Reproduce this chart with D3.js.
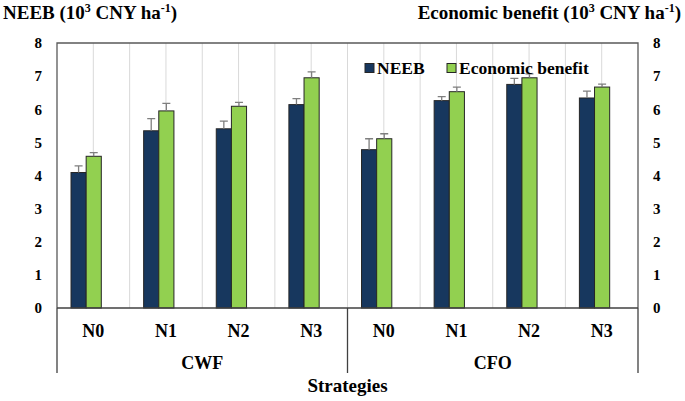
<!DOCTYPE html>
<html><head><meta charset="utf-8">
<script src="https://cdn.jsdelivr.net/npm/d3@7"></script>
<style>body{margin:0;background:#fff}svg{display:block}text{font-family:"Liberation Serif","Times New Roman",Tinos,"DejaVu Serif",serif !important;font-weight:bold;fill:#000}</style>
</head><body><svg id="c" width="685" height="401"></svg>
<script>
const groups = ["CWF","CFO"];
const levels = ["N0","N1","N2","N3"];
const seriesNames = ["NEEB","Economic benefit"];
const neeb      = [4.09,5.35,5.41,6.14, 4.78,6.26,6.75,6.34];
const neebErr   = [0.20,0.37,0.23,0.18, 0.33,0.12,0.18,0.21];
const econ      = [4.58,5.95,6.09,6.95, 5.11,6.53,6.95,6.67];
const econErr   = [0.11,0.23,0.12,0.18, 0.15,0.14,0.12,0.09];
const yTicks = [0,1,2,3,4,5,6,7,8];
const colors = ["#17375E","#92D050"];

const cats = [];
groups.forEach(g => levels.forEach(l => cats.push(g + "|" + l)));
const data = cats.map((c,i)=>({cat:c, vals:[{s:0,v:neeb[i],e:neebErr[i]},{s:1,v:econ[i],e:econErr[i]}]}));

const svg = d3.select("#c");
const L=57, R=638, T=43, B=308;
const x = d3.scaleBand().domain(cats).range([L,R]).padding(0);
const bw = x.bandwidth();
const xs = d3.scaleBand().domain([0,1]).range([bw*0.193, bw*0.61]).padding(0);
const y = d3.scaleLinear().domain([0,8]).range([B,T]);

const gl = svg.append("g");
cats.forEach((c,i)=>{
  [x(c)+bw/2, x(c)+bw].forEach(px=>{
    if (px < R-1) gl.append("line").attr("x1",px).attr("x2",px).attr("y1",T).attr("y2",B)
      .attr("stroke","#d9d9d9").attr("stroke-width",1);
  });
});

const g = svg.append("g").selectAll("g").data(data).join("g").attr("transform",d=>`translate(${x(d.cat)},0)`);
g.selectAll("rect").data(d=>d.vals).join("rect")
  .attr("x",d=>xs(d.s)).attr("width",xs.bandwidth())
  .attr("y",d=>y(d.v)).attr("height",d=>y(0)-y(d.v))
  .attr("fill",d=>colors[d.s]).attr("stroke","#262626").attr("stroke-width",1);
g.selectAll("path.err").data(d=>d.vals).join("path").attr("class","err")
  .attr("d",d=>{const cx=xs(d.s)+xs.bandwidth()/2, y1=y(d.v), y2=y(d.v+d.e);
    return `M${cx},${y1}V${y2}M${cx-4},${y2}H${cx+4}`;})
  .attr("stroke","#7f7f7f").attr("stroke-width",1.3).attr("fill","none");

svg.append("path").attr("d",`M${L},${B}V${T}H${R}V${B}`).attr("fill","none").attr("stroke","#595959").attr("stroke-width",1.3);
svg.append("line").attr("x1",L).attr("x2",R).attr("y1",B).attr("y2",B).attr("stroke","#404040").attr("stroke-width",1.3);

const yl = d3.axisLeft(y).tickValues(yTicks).tickSize(0).tickPadding(0).tickFormat(d3.format("d"));
const yr = d3.axisRight(y).tickValues(yTicks).tickSize(0).tickPadding(0).tickFormat(d3.format("d"));
const ga = svg.append("g").attr("transform","translate(42,0)").call(yl);
const gb = svg.append("g").attr("transform","translate(653,0)").call(yr);
[ga,gb].forEach(a=>{a.attr("font-family",null); a.select(".domain").remove(); a.selectAll("text").attr("font-size",15).attr("fill","#000");});

svg.append("g").selectAll("text").data(cats).join("text")
  .attr("x",c=>x(c)+bw/2).attr("y",337).attr("text-anchor","middle").attr("font-size",18)
  .text(c=>c.split("|")[1]);
const gw = bw*levels.length;
groups.forEach((gname,i)=>{
  const gx = L + i*gw;
  svg.append("text").attr("x",gx+gw/2).attr("y",369).attr("text-anchor","middle").attr("font-size",18).text(gname);
});
[0,1,2].forEach(i=>{
  const px = L + i*gw;
  svg.append("line").attr("x1",px).attr("x2",px).attr("y1",B).attr("y2",373).attr("stroke","#404040").attr("stroke-width",1.3);
});
svg.append("text").attr("x",(L+R)/2).attr("y",392).attr("text-anchor","middle").attr("font-size",19).text("Strategies");

function title(xp, anchor, name){
  const t = svg.append("text").attr("x",xp).attr("y",19).attr("text-anchor",anchor).attr("font-size",19);
  t.append("tspan").text(name+" (10");
  t.append("tspan").attr("font-size",12).attr("dy",-7).text("3");
  t.append("tspan").attr("dy",7).text(" CNY ha");
  t.append("tspan").attr("font-size",12).attr("dy",-7).text("-1");
  t.append("tspan").attr("dy",7).text(")");
}
title(3,"start","NEEB");
title(681,"end","Economic benefit");

const leg = svg.append("g");
const lx = [365, 447];
seriesNames.forEach((s,i)=>{
  leg.append("rect").attr("x",lx[i]).attr("y",63.5).attr("width",9).attr("height",9).attr("fill",colors[i]).attr("stroke","#262626").attr("stroke-width",1);
  leg.append("text").attr("x",lx[i]+12).attr("y",74).attr("font-size",17.5).text(s);
});
</script></body></html>
